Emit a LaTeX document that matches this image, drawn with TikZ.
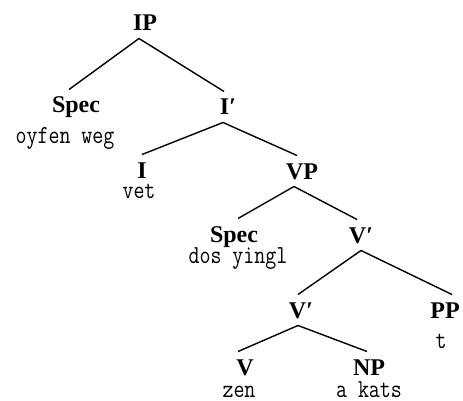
\documentclass[tikz,border=0pt]{standalone}
\usepackage{fontspec}
\setmainfont{Liberation Serif}
\newfontfamily\wordfont[FakeStretch=0.82]{Latin Modern Mono}
\begin{document}
\begin{tikzpicture}[x=1pt,y=-1pt,
  lab/.style={anchor=base,inner sep=0pt,outer xsep=0pt,outer ysep=7.5pt,text height=16pt,text depth=0pt,
    font=\fontsize{24}{26}\selectfont\bfseries},
  word/.style={anchor=base,inner sep=0pt,font=\wordfont\fontsize{26}{28}\selectfont},
  edge/.style={line width=1.4pt}]
\useasboundingbox (0,0) rectangle (463,401);
% labels
\node[lab] (ip) at (145,31) {IP};
\node[lab] (spec1) at (76,113) {Spec};
\node[lab] (ibar) at (228,115) {I′};
\node[lab] (i) at (142,178) {I};
\node[lab] (vp) at (302,179) {VP};
\node[lab] (spec2) at (234,242) {Spec};
\node[lab] (vbar1) at (361,243) {V′};
\node[lab] (vbar2) at (301,318) {V′};
\node[lab] (pp) at (445,318) {PP};
\node[lab] (v) at (245,375) {V};
\node[lab] (np) at (369,375) {NP};
% words
\node[word] (w1) at (65,143) {oyfen weg};
\node[word] (w2) at (139,198) {vet};
\node[word] (w3) at (238,263) {dos yingl};
\node[word] (w4) at (441,348) {t};
\node[word] (w5) at (239,397) {zen};
\node[word] (w6) at (369,397) {a kats};
% edges
\draw[edge] ([xshift=-6pt]ip.south) -- ([xshift=-7pt]spec1.north);
\draw[edge] ([xshift=-6pt]ip.south) -- ([xshift=-4pt]ibar.north);
\draw[edge] ([xshift=-5pt]ibar.south) -- (i.north);
\draw[edge] ([xshift=-5pt]ibar.south) -- ([xshift=-5pt]vp.north);
\draw[edge] ([xshift=-8pt]vp.south) -- ([xshift=4pt]spec2.north);
\draw[edge] ([xshift=-8pt]vp.south) -- ([xshift=-4pt]vbar1.north);
\draw[edge] (vbar1.south) -- ([xshift=-3pt]vbar2.north);
\draw[edge] (vbar1.south) -- ([xshift=7pt]pp.north);
\draw[edge] ([xshift=-3pt]vbar2.south) -- ([xshift=-7pt]v.north);
\draw[edge] ([xshift=-3pt]vbar2.south) -- ([xshift=-2pt]np.north);
\end{tikzpicture}
\end{document}
